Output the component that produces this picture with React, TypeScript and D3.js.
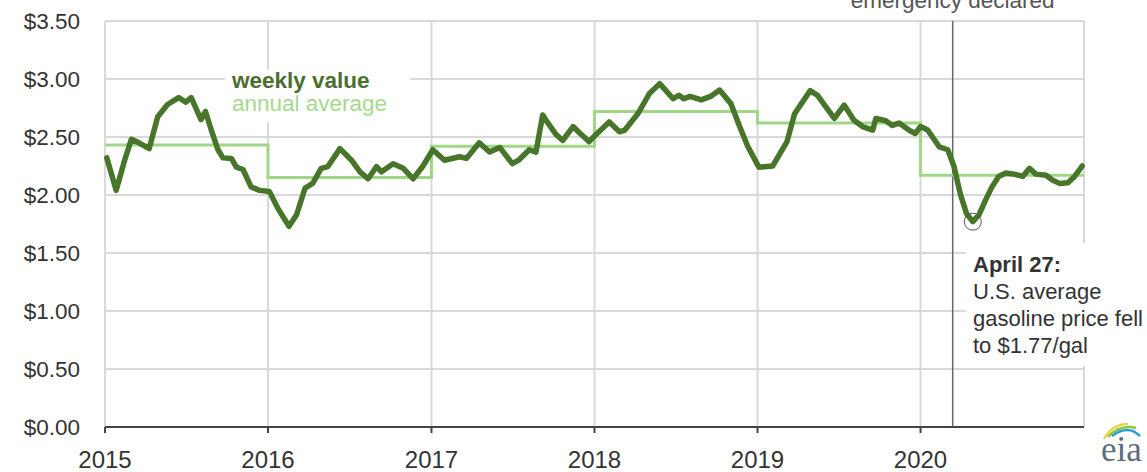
import React from 'react';
import * as d3 from 'd3';

// weekly U.S. regular gasoline retail price ($/gal)
const weekDates = [
  '2015-01-05', '2015-01-26', '2015-02-14', '2015-03-01', '2015-03-18', '2015-04-10', '2015-04-29',
  '2015-05-21', '2015-06-15', '2015-07-01', '2015-07-13', '2015-08-04', '2015-08-14', '2015-08-27',
  '2015-09-11', '2015-09-22', '2015-10-11', '2015-10-22', '2015-11-06', '2015-11-24', '2015-12-13',
  '2016-01-04', '2016-01-23', '2016-02-17', '2016-03-05', '2016-03-24', '2016-04-10', '2016-04-29',
  '2016-05-14', '2016-06-10', '2016-07-06', '2016-07-25', '2016-08-12', '2016-08-31', '2016-09-11',
  '2016-10-07', '2016-10-30', '2016-11-21', '2016-12-13', '2017-01-04', '2017-01-30', '2017-03-05',
  '2017-03-20', '2017-04-18', '2017-05-11', '2017-06-03', '2017-07-01', '2017-07-15', '2017-08-08',
  '2017-08-23', '2017-09-07', '2017-09-17', '2017-10-07', '2017-10-22', '2017-11-14', '2017-11-30',
  '2017-12-20', '2018-01-04', '2018-02-03', '2018-02-26', '2018-03-10', '2018-04-08', '2018-05-04',
  '2018-05-27', '2018-06-26', '2018-07-09', '2018-07-20', '2018-08-03', '2018-08-28', '2018-09-18',
  '2018-10-08', '2018-11-02', '2018-11-22', '2018-12-10', '2019-01-04', '2019-02-04', '2019-03-08',
  '2019-03-25', '2019-04-29', '2019-05-15', '2019-06-03', '2019-06-22', '2019-07-14', '2019-08-05',
  '2019-08-24', '2019-09-16', '2019-09-23', '2019-10-15', '2019-10-30', '2019-11-14', '2019-12-06',
  '2019-12-20', '2020-01-01', '2020-01-17', '2020-02-12', '2020-03-02', '2020-03-16', '2020-03-30',
  '2020-04-13', '2020-04-27', '2020-05-11', '2020-05-26', '2020-06-09', '2020-06-24', '2020-07-10',
  '2020-07-28', '2020-08-17', '2020-09-01', '2020-09-15', '2020-10-08', '2020-10-22', '2020-11-07',
  '2020-11-26', '2020-12-11', '2020-12-28',
];
const weekValues = [
  2.32, 2.04, 2.30, 2.48, 2.45, 2.40, 2.675,
  2.78, 2.84, 2.80, 2.84, 2.65, 2.72, 2.56,
  2.39, 2.32, 2.315, 2.24, 2.22, 2.07, 2.04,
  2.03, 1.885, 1.73, 1.83, 2.06, 2.10, 2.23,
  2.245, 2.40, 2.30, 2.20, 2.14, 2.245, 2.20,
  2.27, 2.23, 2.14, 2.25, 2.39, 2.30, 2.33,
  2.315, 2.45, 2.37, 2.41, 2.27, 2.30, 2.39,
  2.37, 2.69, 2.63, 2.52, 2.47, 2.59, 2.53,
  2.46, 2.52, 2.63, 2.545, 2.56, 2.70, 2.875,
  2.96, 2.83, 2.86, 2.83, 2.85, 2.82, 2.85,
  2.905, 2.79, 2.59, 2.42, 2.24, 2.25, 2.46,
  2.70, 2.90, 2.86, 2.76, 2.66, 2.775, 2.645,
  2.59, 2.56, 2.66, 2.64, 2.60, 2.62, 2.56,
  2.53, 2.59, 2.56, 2.415, 2.39, 2.245, 2.01,
  1.84, 1.77, 1.83, 1.96, 2.07, 2.16, 2.19,
  2.18, 2.16, 2.23, 2.18, 2.17, 2.13, 2.10,
  2.105, 2.16, 2.25,
];

const years = ['2015', '2016', '2017', '2018', '2019', '2020'];
const annualAverage = [2.43, 2.15, 2.42, 2.72, 2.62, 2.17];

const yTicks = [0, 0.5, 1, 1.5, 2, 2.5, 3, 3.5];

const emergencyDate = '2020-03-13';
const lowDate = '2020-04-27';
const lowValue = 1.77;

const width = 1147;
const height = 472;
const left = 105, right = 1084, top = 21, bottom = 427;

const font = '"Liberation Sans", Arial, sans-serif';
const textColor = '#333';
const gridColor = '#d9d9d9';
const weeklyColor = '#47752a';
const annualColor = '#9fd787';

export default function App() {
  const parse = d3.timeParse('%Y-%m-%d');

  const x = d3.scaleTime()
    .domain([parse('2015-01-01')!, parse('2021-01-01')!])
    .range([left, right]);
  const y = d3.scaleLinear().domain([0, 3.5]).range([bottom, top]);

  const weekly = weekDates.map((d, i) => ({ date: parse(d)!, value: weekValues[i] }));
  const annual = years.map((yr, i) => ({ date: parse(yr + '-01-01')!, value: annualAverage[i] }));
  annual.push({ date: parse('2021-01-01')!, value: annualAverage[annualAverage.length - 1] });

  const weeklyLine = d3.line<{ date: Date; value: number }>()
    .x(d => x(d.date))
    .y(d => y(d.value));
  const annualLine = d3.line<{ date: Date; value: number }>()
    .curve(d3.curveStepAfter)
    .x(d => x(d.date))
    .y(d => y(d.value));

  const yearTicks = years.map(yr => parse(yr + '-01-01')!);
  const emX = x(parse(emergencyDate)!);
  const lowX = x(parse(lowDate)!);
  const lowY = y(lowValue);

  return (
    <svg width={width} height={height} style={{ position: 'absolute', left: 0, top: 0, background: '#fff' }}
      fontFamily={font}>
      {/* grid */}
      {yTicks.map(t => (
        <line key={'gy' + t} x1={left} x2={right} y1={y(t)} y2={y(t)} stroke={gridColor} strokeWidth={2} />
      ))}
      {yearTicks.map((d, i) => (
        <line key={'gx' + i} x1={x(d)} x2={x(d)} y1={top} y2={bottom} stroke={gridColor} strokeWidth={2} />
      ))}
      <line x1={right} x2={right} y1={top} y2={bottom} stroke={gridColor} strokeWidth={2} />

      {/* legend box + labels */}
      <rect x={225} y={70} width={185} height={52} fill="#fff" />
      <text x={232} y={88} fontSize={22.5} fontWeight="bold" fill="#4b6e2e">weekly value</text>
      <text x={232} y={111} fontSize={22.5} fill="#a6d98c">annual average</text>

      {/* annotation box */}
      <rect x={966} y={243} width={181} height={123} fill="#fff" />

      {/* y labels */}
      {yTicks.map(t => (
        <text key={'ly' + t} x={80} y={y(t)} dy="0.35em" textAnchor="end" fontSize={22.5} fill={textColor}>
          {d3.format('$.2f')(t)}
        </text>
      ))}

      {/* emergency line */}
      <line x1={emX} x2={emX} y1={top} y2={bottom} stroke="#666" strokeWidth={1.5} />
      <text x={emX} y={8} textAnchor="middle" fontSize={22.5} fill="#555">emergency declared</text>

      {/* series */}
      <path d={annualLine(annual) ?? ''} fill="none" stroke={annualColor} strokeWidth={3} />
      <path d={weeklyLine(weekly) ?? ''} fill="none" stroke={weeklyColor} strokeWidth={5.5}
        strokeLinejoin="round" strokeLinecap="round" />
      <circle cx={lowX} cy={lowY} r={8.5} fill="none" stroke="#555" strokeWidth={1} />

      {/* x axis */}
      <line x1={left} x2={right} y1={bottom} y2={bottom} stroke="#444" strokeWidth={2} />
      {yearTicks.map((d, i) => (
        <g key={'tx' + i}>
          <line x1={x(d)} x2={x(d)} y1={bottom} y2={bottom + 6} stroke="#444" strokeWidth={2} />
          <text x={x(d)} y={468} textAnchor="middle" fontSize={24} fill={textColor}>{years[i]}</text>
        </g>
      ))}

      {/* annotation text */}
      <text x={973} fontSize={22} fill={textColor}>
        <tspan x={973} y={272} fontWeight="bold">April 27:</tspan>
        <tspan x={973} y={299}>U.S. average</tspan>
        <tspan x={973} y={326}>gasoline price fell</tspan>
        <tspan x={973} y={353}>to $1.77/gal</tspan>
      </text>

      {/* eia logo */}
      <g>
        <path d="M1104,439 Q1112,424 1128,424" fill="none" stroke="#e8d44d" strokeWidth={2.5} />
        <path d="M1108,437 Q1120,424 1136,428" fill="none" stroke="#8cc63f" strokeWidth={2.5} />
        <path d="M1112,436 Q1128,424 1140,436" fill="none" stroke="#2a9fd6" strokeWidth={2.5} />
        <text x={1101} y={461} fontSize={35} fontFamily='"Liberation Serif", serif' fill="#5d6d7e">eia</text>
      </g>
    </svg>
  );
}
